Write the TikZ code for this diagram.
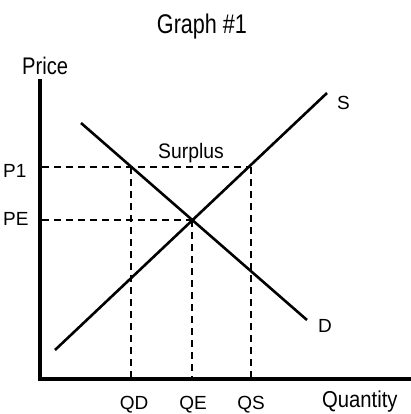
\documentclass[tikz,border=0pt]{standalone}
\usepackage{fontspec}
\setmainfont{Liberation Sans}
\begin{document}
\begin{tikzpicture}[x=1pt,y=-1pt,
  axis/.style={line width=4pt,line cap=rect},
  curve/.style={line width=2.6pt},
  guide/.style={line width=1.8pt,dash pattern=on 7pt off 5pt},
  lbl/.style={inner sep=0pt,font=\fontsize{19}{19}\selectfont},
  cond/.style={inner sep=0pt}]
\useasboundingbox (0,0) rectangle (410,414);
% axes
\coordinate (ytop) at (39.5,81);
\coordinate (orig) at (39.5,378.5);
\coordinate (xend) at (410,378.5);
\draw[axis] (ytop) -- (orig) -- (xend);
% curves
\coordinate (s0) at (55,350);
\coordinate (s1) at (327,93);
\coordinate (d0) at (81,123);
\coordinate (d1) at (307,320);
\draw[curve] (s0) -- (s1);
\draw[curve] (d0) -- (d1);
% guide points
\coordinate (p1) at (42,167);
\coordinate (pe) at (42,220);
\coordinate (a) at (131,167);
\coordinate (b) at (251,167);
\coordinate (e) at (192,220);
\coordinate (qd) at (131,378);
\coordinate (qe) at (192,378);
\coordinate (qs) at (251,378);
\draw[guide] (p1) -- (b);
\draw[guide] (pe) -- (e);
\draw[guide] (a) -- (qd);
\draw[guide] (e) -- (qe);
\draw[guide] (b) -- (qs);
% texts
\node[cond,anchor=base] (title) at (202,34) {\scalebox{0.8}[1]{\fontsize{27}{27}\selectfont Graph \#1}};
\node[cond,anchor=base west] (price) at (22,75) {\scalebox{0.84}[1]{\fontsize{24}{24}\selectfont Price}};
\node[cond,anchor=base] (surplus) at (191,158) {\scalebox{0.92}[1]{\fontsize{21}{21}\selectfont Surplus}};
\node[cond,anchor=base west] (quantity) at (322,407) {\scalebox{0.88}[1]{\fontsize{23}{23}\selectfont Quantity}};
\node[lbl,anchor=base west] (lp1) at (3,177) {P1};
\node[lbl,anchor=base west] (lpe) at (3,225) {PE};
\node[lbl,anchor=base] (lqd) at (134,409) {QD};
\node[lbl,anchor=base] (lqe) at (193,409) {QE};
\node[lbl,anchor=base] (lqs) at (251,409) {QS};
\node[lbl,anchor=base west] (ls) at (337,110) {S};
\node[lbl,anchor=base west] (ld) at (318,332) {D};
\end{tikzpicture}
\end{document}
